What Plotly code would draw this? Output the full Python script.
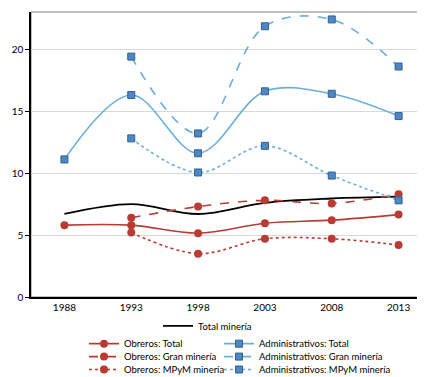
import plotly.graph_objects as go

years = ["1988", "1993", "1998", "2003", "2008", "2013"]
total_mineria = [6.7, 7.5, 6.7, 7.6, 7.95, 8.1]
obreros_total = [5.8, 5.8, 5.15, 5.95, 6.2, 6.65]
obreros_gran = [None, 6.4, 7.3, 7.8, 7.55, 8.3]
obreros_mpym = [None, 5.2, 3.5, 4.7, 4.7, 4.2]
admin_total = [11.1, 16.3, 11.6, 16.6, 16.4, 14.6]
admin_gran = [None, 19.4, 13.2, 21.85, 22.4, 18.6]
admin_mpym = [None, 12.8, 10.05, 12.2, 9.8, 7.8]
y_ticks = [0, 5, 10, 15, 20]

RED = "#B93B33"
BLUE_LINE = "#6AAFDC"
BLUE_MK = "#4D87C4"
BLUE_EDGE = "#34608F"

fig = go.Figure()

def add(name, y, color, dash, marker, legend):
    fig.add_trace(go.Scatter(
        x=years, y=y, name=name, mode="lines+markers" if marker else "lines",
        line=dict(color=color, dash=dash, width=1.6 if color != "black" else 1.8,
                  shape="spline", smoothing=1.0),
        marker=marker, connectgaps=False, legend=legend,
    ))

red_mk = dict(symbol="circle", size=8, color=RED)
blue_mk = dict(symbol="square", size=7, color=BLUE_MK, line=dict(color=BLUE_EDGE, width=1))

add("Total minería", total_mineria, "black", "solid", None, "legend")
add("Obreros: Total", obreros_total, RED, "solid", red_mk, "legend2")
add("Obreros: Gran minería", obreros_gran, RED, "dash", red_mk, "legend3")
add("Obreros: MPyM minería", obreros_mpym, RED, "dot", red_mk, "legend4")
add("Administrativos: Total", admin_total, BLUE_LINE, "solid", blue_mk, "legend5")
add("Administrativos: Gran minería", admin_gran, BLUE_LINE, "dash", blue_mk, "legend6")
add("Administrativos: MPyM minería", admin_mpym, BLUE_LINE, "dot", blue_mk, "legend7")

L, R, T, B = 23, 1, 4, 86
W, H = 425, 377
pw, ph = W - L - R, H - T - B

def px(x):
    return (x - L) / pw

def py(y):
    return (H - B - y) / ph

legfont = dict(family="Lato", size=9.5, color="black")
def leg(x, y):
    return dict(x=px(x), y=py(y), xanchor="left", yanchor="middle", font=legfont,
                bgcolor="rgba(0,0,0,0)", itemwidth=30, tracegroupgap=0)

fig.update_layout(
    width=W, height=H,
    margin=dict(l=L, r=R, t=T, b=B),
    paper_bgcolor="white", plot_bgcolor="white",
    font=dict(family="Lato", size=10, color="black"),
    showlegend=True,
    legend=leg(150, 320),
    legend2=leg(76, 338),
    legend3=leg(76, 351),
    legend4=leg(76, 364),
    legend5=leg(211, 338),
    legend6=leg(211, 351),
    legend7=leg(211, 364),
    xaxis=dict(type="category", range=[-0.5, 5.5], showgrid=False, showline=True,
               linecolor="black", linewidth=1.5, ticks="", tickfont=dict(size=10),
               zeroline=False),
    yaxis=dict(range=[0, 23], tickvals=y_ticks, showgrid=True, gridcolor="#D9D9D9",
               gridwidth=1, showline=True, linecolor="black", linewidth=1.5,
               ticks="outside", ticklen=4, tickcolor="black", zeroline=False,
               tickfont=dict(size=10)),
    shapes=[dict(type="rect", xref="paper", yref="paper", x0=0, y0=0, x1=1, y1=1,
                 line=dict(color="#808080", width=1), layer="below")],
)

fig.write_html("out.html")
